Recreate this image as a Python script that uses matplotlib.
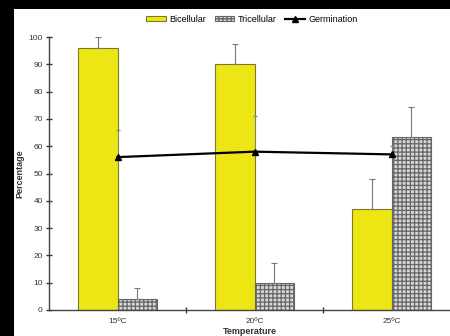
import matplotlib
matplotlib.use("Agg")
import matplotlib.pyplot as plt
import numpy as np
from matplotlib.patches import Rectangle
from matplotlib.lines import Line2D

categories = ["15ºC", "20ºC", "25ºC"]
bicellular = [96, 90, 37]
bicellular_err = [4, 7.5, 11]
tricellular = [4, 10, 63.5]
tricellular_err = [4, 7.3, 11]
germination = [56, 58, 57]
germination_err = [10, 13, 3]
yticks = [0, 10, 20, 30, 40, 50, 60, 70, 80, 90, 100]

plt.rcParams['font.family'] = ['Liberation Sans', 'DejaVu Sans']
plt.rcParams['hatch.color'] = '#a8a8a8'
plt.rcParams['hatch.linewidth'] = 0.9

fig = plt.figure(figsize=(4.5, 3.36), dpi=100, facecolor='black')
bg = Rectangle((14/450, 0), 1, 1 - 9/336, transform=fig.transFigure,
               facecolor='white', edgecolor='none', zorder=-10)
fig.add_artist(bg)
ax = fig.add_axes([49/450, 26/336, 1 - 49/450, (310-37)/336])
ax.set_facecolor('none')
ax.set_zorder(1)

x = np.arange(len(categories))
w = 0.285
ax.bar(x - w/2, bicellular, w, color='#ede614', edgecolor='#7a7a2a', linewidth=0.8,
       yerr=[np.zeros(3), bicellular_err], ecolor='#777777',
       error_kw=dict(elinewidth=0.8, capsize=2, capthick=0.8), zorder=2)
ax.bar(x + w/2, tricellular, w, color='#d6d6d6', edgecolor='#666666', linewidth=0.8,
       hatch='++++', yerr=[np.zeros(3), tricellular_err], ecolor='#777777',
       error_kw=dict(elinewidth=0.8, capsize=2, capthick=0.8), zorder=2)
ax.errorbar(x, germination, yerr=[np.zeros(3), germination_err], fmt='none',
            ecolor='#888888', elinewidth=0.5, capsize=1.5, zorder=3)
ax.plot(x, germination, color='black', linewidth=1.6, marker='^', markersize=5, zorder=4)

ax.set_xlim(-0.5, 2.5 - 10/137)
ax.set_ylim(0, 100)
ax.set_yticks(yticks)
ax.set_xticks(x)
ax.set_xticklabels(categories)
ax.set_xticks([0.5, 1.5], minor=True)
ax.tick_params(axis='x', which='major', length=0, labelsize=6, pad=6, colors='#333333')
ax.tick_params(axis='x', which='minor', length=5, direction='inout', width=1, color='#333333')
ax.tick_params(axis='y', length=5, direction='inout', width=1, labelsize=6, pad=2,
               colors='#333333')
for s in ['top', 'right']:
    ax.spines[s].set_visible(False)
for s in ['left', 'bottom']:
    ax.spines[s].set_color('#444444')
    ax.spines[s].set_linewidth(1)
ax.set_ylabel('Percentage', fontsize=6.5, fontweight='bold', labelpad=3, color='#333333')
ax.set_xlabel('Temperature', fontsize=6.5, fontweight='bold', labelpad=1, color='#333333')

handles = [Rectangle((0, 0), 1, 1, facecolor='#ede614', edgecolor='#7a7a2a', linewidth=0.8),
           Rectangle((0, 0), 1, 1, facecolor='#d6d6d6', edgecolor='#666666', linewidth=0.8, hatch='++++'),
           Line2D([], [], color='black', linewidth=1.6, marker='^', markersize=4)]
fig.legend(handles, ['Bicellular', 'Tricellular', 'Germination'], loc='center',
           bbox_to_anchor=(252/450, 1 - 19/336), ncol=3, frameon=False, fontsize=6.5,
           handlelength=2.2, handleheight=0.5, handletextpad=0.4, columnspacing=0.9)

fig.savefig('out.png', dpi=100, facecolor='black')
